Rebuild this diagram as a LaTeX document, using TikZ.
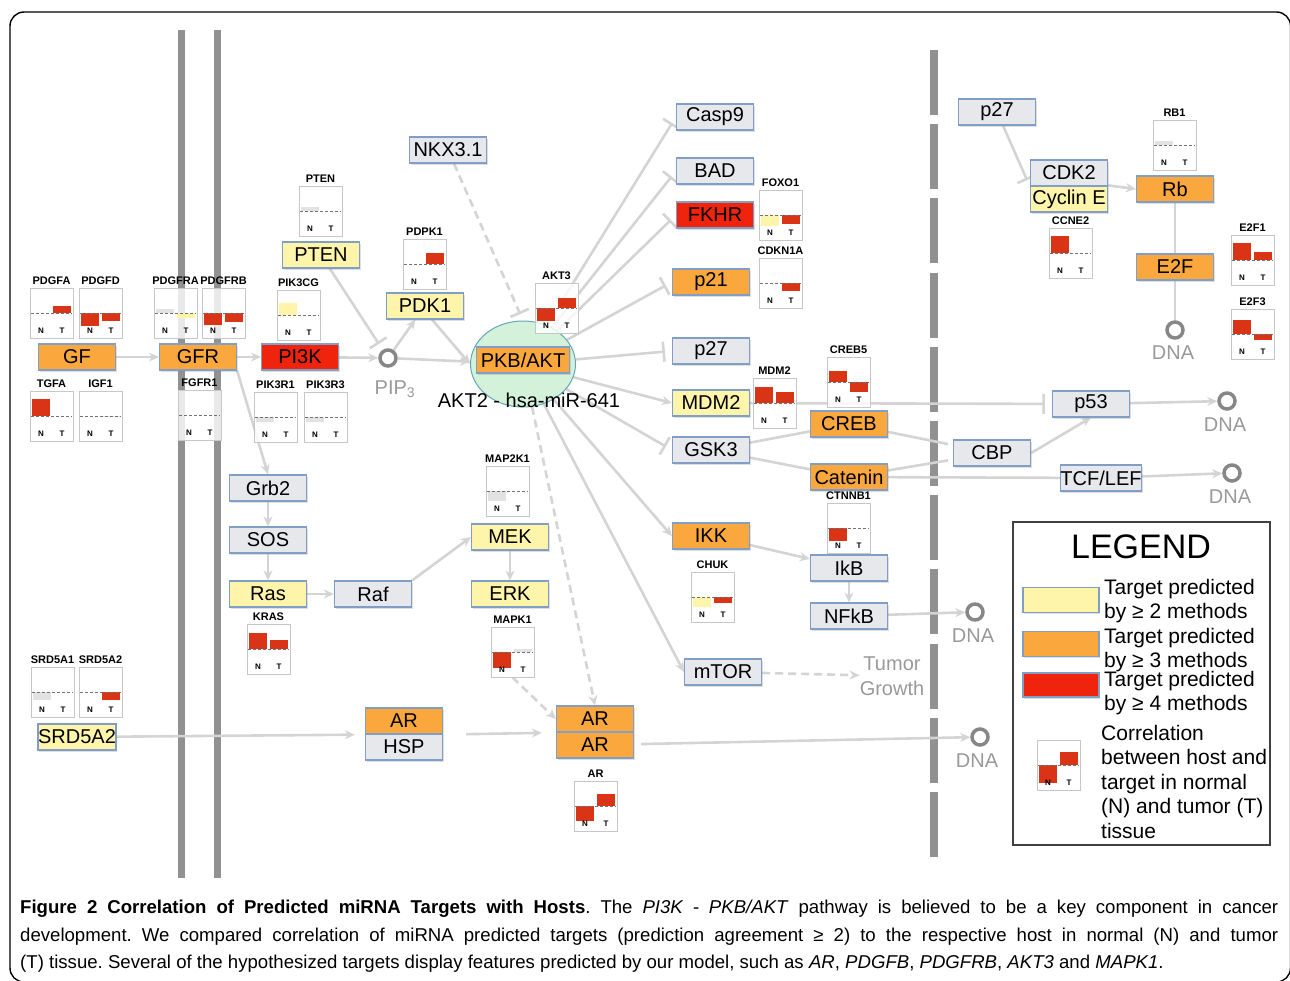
\documentclass[tikz,border=0pt]{standalone}
\usepackage{fontspec}
\setmainfont{Liberation Sans}
\usepackage{xcolor}
\usepackage{tikz}
\usetikzlibrary{arrows.meta,shapes.geometric,shadows,backgrounds}

\definecolor{tgtlow}{RGB}{255,245,170}
\definecolor{tgtmid}{RGB}{250,168,62}
\definecolor{tgthigh}{RGB}{240,36,12}
\definecolor{plainfill}{RGB}{230,232,236}
\definecolor{boxedge}{RGB}{128,158,198}
\definecolor{barred}{RGB}{218,52,22}
\definecolor{barpale}{RGB}{226,226,226}
\definecolor{linkgray}{RGB}{212,212,212}
\definecolor{ringgray}{RGB}{135,135,135}
\definecolor{membgray}{RGB}{145,145,145}
\definecolor{cellgreen}{RGB}{212,241,218}
\definecolor{celledge}{RGB}{100,165,185}

\tikzset{
  gene/.style={draw=boxedge, line width=1.2pt, minimum width=77pt, minimum height=26pt,
    inner sep=0pt, font=\fontsize{20}{22}\selectfont,
    drop shadow={shadow xshift=1pt, shadow yshift=-1.5pt, opacity=0.25}},
  boxplain/.style={gene, fill=plainfill},
  boxlow/.style={gene, fill=tgtlow},
  boxmid/.style={gene, fill=tgtmid},
  boxhigh/.style={gene, fill=tgthigh},
  link/.style={draw=linkgray, line width=2.6pt},
  act/.style={link, -{Stealth[length=10pt,width=9pt]}},
  inh/.style={link, -{Bar[width=20pt]}, shorten >=7pt},
  dashlink/.style={dash pattern=on 8pt off 5pt},
  ring/.style={circle, draw=ringgray, line width=3.5pt, minimum size=16pt, inner sep=0pt},
  graylabel/.style={text=ringgray!85, inner sep=0pt, font=\fontsize{20}{25}\selectfont},
  charttitle/.style={font=\bfseries\fontsize{11}{12}\selectfont, inner sep=0pt},
  chartnt/.style={font=\bfseries\fontsize{8}{9}\selectfont, inner sep=0pt},
  chartbox/.style={draw=black!22, fill=white, fill opacity=0.8, line width=0.8pt,
    minimum width=43pt, minimum height=50pt, inner sep=0pt},
  chartzero/.style={densely dashed, draw=black!55, line width=0.8pt},
  legtext/.style={anchor=north west, align=left, inner sep=0pt, font=\fontsize{21}{24.5}\selectfont}
}

% name, left, top, title, N colour, N height, T colour, T height
\newcommand{\corrchart}[8]{%
  \begin{scope}[shift={(#2,#3)}]
    \node[chartbox] (#1-box) at (21.5,25) {};
    \fill[#5] (2,25) rectangle (20,{25-(#6)});
    \fill[#7] (23,25) rectangle (41,{25-(#8)});
    \draw[chartzero] (1,25) -- (42,25);
    \node[charttitle] (#1) at (21.5,-7) {#4};
    \node[chartnt] (#1-N) at (11,43) {N};
    \node[chartnt] (#1-T) at (32,43) {T};
  \end{scope}}

\begin{document}
\begin{tikzpicture}[x=1pt,y=-1pt]
\useasboundingbox (0,0) rectangle (1290,980);

% Frame
\draw[line width=1.4pt, rounded corners=14pt] (10,12) rectangle (1290.5,982);

% Membrane side
\node[boxmid] (gf) at (77,357) {GF};
\node[boxmid] (gfr) at (198,357) {GFR};
\node[boxhigh] (pik) at (300,357) {PI3K};
\node[boxlow] (pten) at (321,255) {PTEN};
\node[boxlow] (pdk) at (425,306) {PDK1};
\node[boxplain] (nkx) at (448,150) {NKX3.1};
\node[ring] (pip) at (388,358) {};
\node[graylabel] (piplabel) at (395,389) {PIP\textsubscript{3}};
\node[ellipse, fill=cellgreen, draw=celledge, line width=1pt, minimum width=105pt, minimum height=86pt] (aktcell) at (523,364) {};
\node[boxmid, minimum width=93pt] (pkb) at (523,360) {PKB/AKT};
\node[font=\fontsize{20}{22}\selectfont, inner sep=0pt] (mirlabel) at (529,400) {AKT2 - hsa-miR-641};

\node[boxplain] (grb2) at (268,488) {Grb2};
\node[boxplain] (sos) at (268,540) {SOS};
\node[boxlow] (ras) at (268,594) {Ras};
\node[boxplain] (raf) at (373,594) {Raf};
\node[boxlow] (mek) at (510,537) {MEK};
\node[boxlow] (erk) at (510,594) {ERK};

\node[boxlow] (srd) at (77,737) {SRD5A2};
\node[boxmid] (arA) at (404,721) {AR};
\node[boxplain] (hsp) at (404,747) {HSP};
\node[boxmid] (arB1) at (595,719) {AR};
\node[boxmid] (arB2) at (595,745) {AR};

% Targets of PKB/AKT
\node[boxplain] (casp9) at (715,117) {Casp9};
\node[boxplain] (bad) at (715,171) {BAD};
\node[boxhigh] (fkhr) at (715,215) {FKHR};
\node[boxmid] (p21) at (711,282) {p21};
\node[boxplain] (p27c) at (711,351) {p27};
\node[boxlow] (mdm2) at (711,403) {MDM2};
\node[boxplain] (gsk3) at (711,450) {GSK3};
\node[boxmid] (ikk) at (711,536) {IKK};
\node[boxplain] (mtor) at (723,672) {mTOR};
\node[boxmid] (creb) at (849,424) {CREB};
\node[boxmid] (catenin) at (849,477) {Catenin};
\node[boxplain] (ikb) at (849,568) {IkB};
\node[boxplain] (nfkb) at (849,616) {NFkB};
\node[graylabel, align=center] (tumor) at (892,676) {Tumor\\Growth};

% Nucleus
\node[boxplain] (p27n) at (997,112) {p27};
\node[boxplain] (cdk2) at (1069,173) {CDK2};
\node[boxlow] (cyce) at (1069,199) {Cyclin E};
\node[boxmid] (rb) at (1175,189) {Rb};
\node[boxmid] (e2f) at (1175,267) {E2F};
\node[boxplain] (p53) at (1091,404) {p53};
\node[boxplain] (cbp) at (992,453) {CBP};
\node[boxplain] (tcf) at (1101,478) {TCF/LEF};

\node[ring] (dnarb) at (1175,330) {};
\node[graylabel] (dnarblabel) at (1173,353) {DNA};
\node[ring] (dnap53) at (1227,401) {};
\node[graylabel] (dnap53label) at (1225,425) {DNA};
\node[ring] (dnatcf) at (1232,473) {};
\node[graylabel] (dnatcflabel) at (1230,497) {DNA};
\node[ring] (dnanfkb) at (975,612) {};
\node[graylabel] (dnanfkblabel) at (973,636) {DNA};
\node[ring] (dnaar) at (980,737) {};
\node[graylabel] (dnaarlabel) at (977,761) {DNA};

% Correlation charts
\corrchart{pdgfa}{30}{288}{PDGFA}{white}{0}{barred}{7}
\corrchart{pdgfd}{79}{288}{PDGFD}{barred}{-13}{barred}{-8}
\corrchart{pdgfra}{154}{288}{PDGFRA}{barpale}{4}{tgtlow}{-5}
\corrchart{pdgfrb}{202}{288}{PDGFRB}{barred}{-12}{barred}{-9}
\corrchart{pik3cg}{277}{290}{PIK3CG}{tgtlow}{12}{white}{0}
\corrchart{tgfa}{30}{391}{TGFA}{barred}{17}{white}{0}
\corrchart{igf1}{79}{391}{IGF1}{white}{0}{barpale}{-1}
\corrchart{fgfr1}{178}{390}{FGFR1}{white}{0}{white}{0}
\corrchart{pik3r1}{254}{392}{PIK3R1}{barpale}{-5}{white}{0}
\corrchart{pik3r3}{304}{392}{PIK3R3}{barpale}{-5}{white}{0}
\corrchart{ptenc}{299}{186}{PTEN}{barpale}{4}{white}{0}
\corrchart{pdpk1}{403}{239}{PDPK1}{white}{0}{barred}{11}
\corrchart{akt3}{535}{283}{AKT3}{barred}{-13}{barred}{10}
\corrchart{foxo1}{759}{190}{FOXO1}{tgtlow}{-11}{barred}{-9}
\corrchart{cdkn1a}{759}{258}{CDKN1A}{white}{0}{barred}{-8}
\corrchart{mdm2c}{753}{378}{MDM2}{barred}{16}{barred}{11}
\corrchart{creb5}{827}{357}{CREB5}{barred}{11}{barred}{-10}
\corrchart{ctnnb1}{827}{503}{CTNNB1}{barred}{-13}{white}{0}
\corrchart{chuk}{691}{572}{CHUK}{tgtlow}{-10}{barred}{-6}
\corrchart{rb1}{1153}{120}{RB1}{barpale}{4}{white}{0}
\corrchart{ccne2}{1049}{228}{CCNE2}{barred}{17}{white}{0}
\corrchart{e2f1}{1231}{235}{E2F1}{barred}{17}{barred}{8}
\corrchart{e2f3}{1231}{309}{E2F3}{barred}{14}{barred}{-6}
\corrchart{map2k1}{486}{466}{MAP2K1}{barpale}{-10}{white}{0}
\corrchart{kras}{247}{624}{KRAS}{barred}{16}{barred}{9}
\corrchart{mapk1}{491}{627}{MAPK1}{barred}{-16}{barpale}{3}
\corrchart{srd5a1}{31}{667}{SRD5A1}{barpale}{-8}{white}{0}
\corrchart{srd5a2}{79}{667}{SRD5A2}{white}{0}{barred}{-8}
\corrchart{arc}{574}{781}{AR}{barred}{-15}{barred}{12}

% Legend
\node[draw=black!75, line width=1.2pt, minimum width=257pt, minimum height=323pt, inner sep=0pt] (legend) at (1141.5,683.5) {};
\node[font=\fontsize{34}{36}\selectfont, inner sep=0pt] (legtitle) at (1141,547) {LEGEND};
\node[boxlow, minimum width=76pt, minimum height=25pt] (sw2) at (1061,600) {};
\node[boxmid, minimum width=76pt, minimum height=25pt] (sw3) at (1061,644) {};
\node[boxhigh, minimum width=76pt, minimum height=24pt] (sw4) at (1061,685) {};
\node[legtext] (leg2) at (1104,579) {Target predicted\\by ≥ 2 methods};
\node[legtext] (leg3) at (1104,628) {Target predicted\\by ≥ 3 methods};
\node[legtext] (leg4) at (1104,671) {Target predicted\\by ≥ 4 methods};
\corrchart{legchart}{1037}{740}{}{barred}{-18}{barred}{13}
\node[legtext] (legcorr) at (1101,725) {Correlation\\between host and\\target in normal\\(N) and tumor (T)\\tissue};

% Caption
\node[anchor=north west, inner sep=0pt, text width=1258pt, align=justify,
  font=\fontsize{18.6}{27.5}\selectfont\frenchspacing] (caption) at (20,900)
  {\textbf{Figure 2 Correlation of Predicted miRNA Targets with Hosts}. The \textit{PI3K - PKB/AKT} pathway is believed to be a key component in cancer\linebreak
  development. We compared correlation of miRNA predicted targets (prediction agreement ≥ 2) to the respective host in normal (N) and tumor\linebreak
  (T) tissue. Several of the hypothesized targets display features predicted by our model, such as \textit{AR}, \textit{PDGFB}, \textit{PDGFRB}, \textit{AKT3} and \textit{MAPK1}.};

% Membranes
\begin{scope}[on background layer]
\draw[membgray, line width=7pt] (181,30) -- (181,878);
\draw[membgray, line width=7pt] (217,30) -- (217,878);
\draw[membgray, line width=8pt, dash pattern=on 65pt off 9.2pt] (934,50) -- (934,857);
\end{scope}

% Connectors
\begin{scope}[on background layer]
\draw[act] (gf) -- (gfr);
\draw[act] (gfr) -- (pik);
\draw[act] (pik) -- (pip);
\draw[act] (pip) -- (aktcell);
\draw[inh] (pten) -- (pip);
\draw[act] (pip) -- (pdk);
\draw[act] ([xshift=7pt]pdk.south) -- (aktcell.west);
\draw[inh, dashlink] (nkx) -- (aktcell.north);
\draw[act, dashlink] (aktcell) -- (arB1.north);

\draw[act] (gfr.south east) -- (grb2.north);
\draw[act] (grb2) -- (sos);
\draw[act] (sos) -- (ras);
\draw[act] (ras) -- (raf);
\draw[act] (raf.north east) -- (mek.west);
\draw[act] (mek) -- (erk);
\draw[act, dashlink] (mapk1-box.south) -- (arB1.west);

\draw[act, shorten >=10pt] (srd) -- (arA.south west);
\draw[act, shorten <=23pt, shorten >=14pt] (arA.south east) -- (arB1.south west);
\draw[act, shorten <=7pt] (arB2) -- (dnaar);

\draw[inh] (aktcell) -- (casp9.west);
\draw[inh] (aktcell) -- (bad.west);
\draw[inh] (aktcell) -- (fkhr.west);
\draw[inh] (aktcell) -- (p21.west);
\draw[inh] (aktcell) -- (p27c.west);
\draw[act] (aktcell) -- (mdm2.west);
\draw[inh] (aktcell) -- (gsk3.west);
\draw[act] (aktcell) -- (ikk.west);
\draw[act] (aktcell) -- (mtor.west);

\draw[inh] (mdm2) -- (p53);
\draw[link] (gsk3) -- (creb);
\draw[link] (gsk3) -- (catenin);
\draw[link, shorten >=5pt] (creb) -- (cbp);
\draw[link, shorten >=5pt] (catenin) -- (cbp);
\draw[link] (catenin) -- (tcf);
\draw[act] (cbp.east) -- (p53.south);
\draw[act] (p53) -- (dnap53);
\draw[act] (tcf) -- (dnatcf);
\draw[act] (ikk) -- (ikb);
\draw[act] (ikb) -- (nfkb);
\draw[act] (nfkb) -- (dnanfkb);
\draw[act, dashlink] (mtor) -- (tumor);

\draw[inh] (p27n) -- (cdk2.south west);
\draw[act] (cyce.north east) -- (rb.west);
\draw[link] (rb) -- (e2f);
\draw[link] (e2f) -- (dnarb);
\end{scope}
\end{tikzpicture}
\end{document}
